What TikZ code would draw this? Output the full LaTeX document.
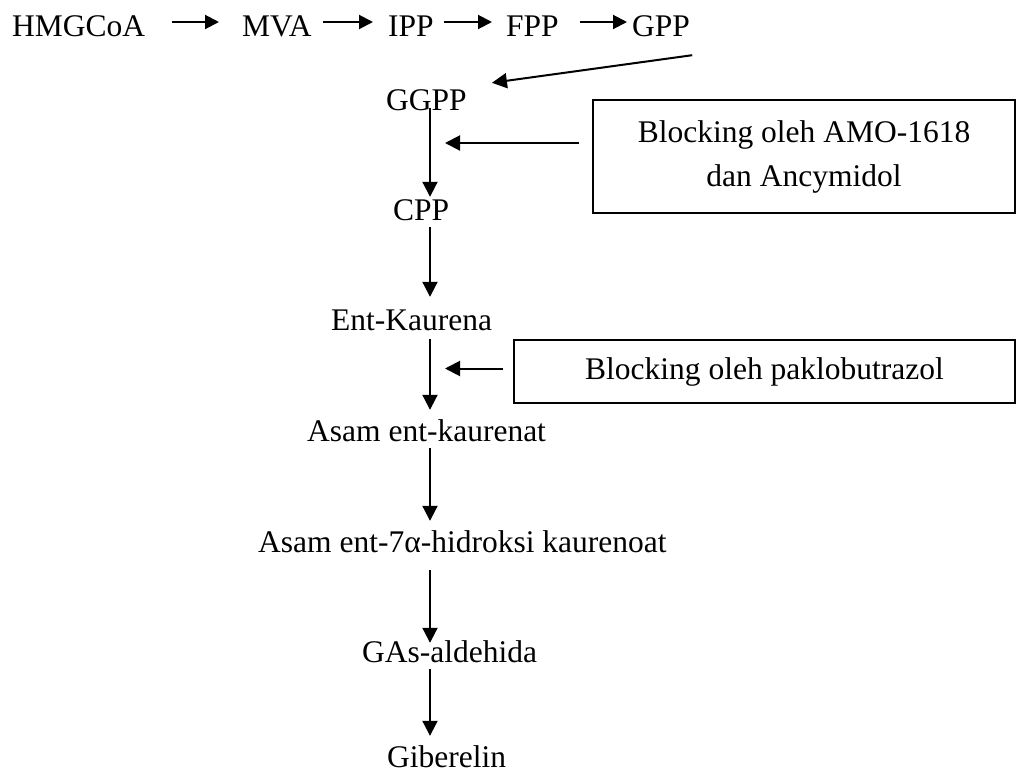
\documentclass[tikz,border=0pt]{standalone}
\usepackage{fontspec}
\setmainfont{Liberation Serif}
\usetikzlibrary{arrows.meta,calc}
\begin{document}
\begin{tikzpicture}[x=1pt,y=-1pt,
  every node/.style={font=\fontsize{31.5}{44}\selectfont, inner sep=0pt},
  lbl/.style={anchor=base west, text height=23pt, text depth=7pt},
  arr/.style={line width=2pt, -{Triangle[length=15pt,width=15pt]}},
  harr/.style={line width=2pt, -{Triangle[length=14pt,width=14pt]}},
  blockbox/.style={draw, line width=1.5pt, align=center}
]
\useasboundingbox (0,0) rectangle (1022,774);
% top row
\node[lbl] (hmg) at (12,36) {HMGCoA};
\node[lbl] (mva) at (242,36) {MVA};
\node[lbl] (ipp) at (388,36) {IPP};
\node[lbl] (fpp) at (506,36) {FPP};
\node[lbl] (gpp) at (632,36) {GPP};
% main column
\node[lbl] (ggpp) at (386,110) {GGPP};
\node[lbl] (cpp) at (393,220) {CPP};
\node[lbl] (ent) at (331,330) {Ent-Kaurena};
\node[lbl] (asam) at (307,441) {Asam ent-kaurenat};
\node[lbl] (hidro) at (258,552) {Asam ent-7α-hidroksi kaurenoat};
\node[lbl] (gas) at (362,662) {GAs-aldehida};
\node[lbl, text depth=2pt] (gib) at (387,767) {Giberelin};
% boxes
\node[blockbox, minimum width=422pt, minimum height=113pt] (b1) at (804,156.5) {Blocking oleh AMO-1618\\dan Ancymidol};
\node[blockbox, minimum width=501pt, minimum height=63pt] (b2) at (764.5,371.5) {Blocking oleh paklobutrazol};
\coordinate (ax) at (430,0);
% top row arrows
\draw[harr, shorten <=27pt, shorten >=23pt] ([yshift=6pt]hmg.east) -- ([yshift=6pt]mva.west);
\draw[harr, shorten <=11pt, shorten >=15pt] ([yshift=6pt]mva.east) -- ([yshift=6pt]ipp.west);
\draw[harr, shorten <=10pt, shorten >=14pt] ([yshift=6pt]ipp.east) -- ([yshift=6pt]fpp.west);
\draw[harr, shorten <=21pt, shorten >=5pt] ([yshift=6pt]fpp.east) -- ([yshift=6pt]gpp.west);
% diagonal
\draw[arr] ($(gpp.south east)+(2,12)$) -- ($(ggpp.north east)+(25,-4)$);
% vertical arrows
\draw[arr, shorten <=-9pt] (ggpp.south -| ax) -- (cpp.north -| ax);
\draw[arr, shorten >=10pt] (cpp.south -| ax) -- (ent.north -| ax);
\draw[arr, shorten <=2pt, shorten >=8pt] (ent.south -| ax) -- (asam.north -| ax);
\draw[arr, shorten >=8pt] (asam.south -| ax) -- (hidro.north -| ax);
\draw[arr, shorten <=11pt, shorten >=-4pt] (hidro.south -| ax) -- (gas.north -| ax);
\draw[arr, shorten >=8pt] (gas.south -| ax) -- (gib.north -| ax);
% blocking arrows
\draw[arr, shorten <=13pt, shorten >=15pt] ([yshift=13.5pt]b1.west) -- ([yshift=13.5pt]b1.west -| ax);
\draw[arr, shorten <=10pt, shorten >=15pt] ([yshift=3pt]b2.west) -- ([yshift=3pt]b2.west -| ax);
\end{tikzpicture}
\end{document}
